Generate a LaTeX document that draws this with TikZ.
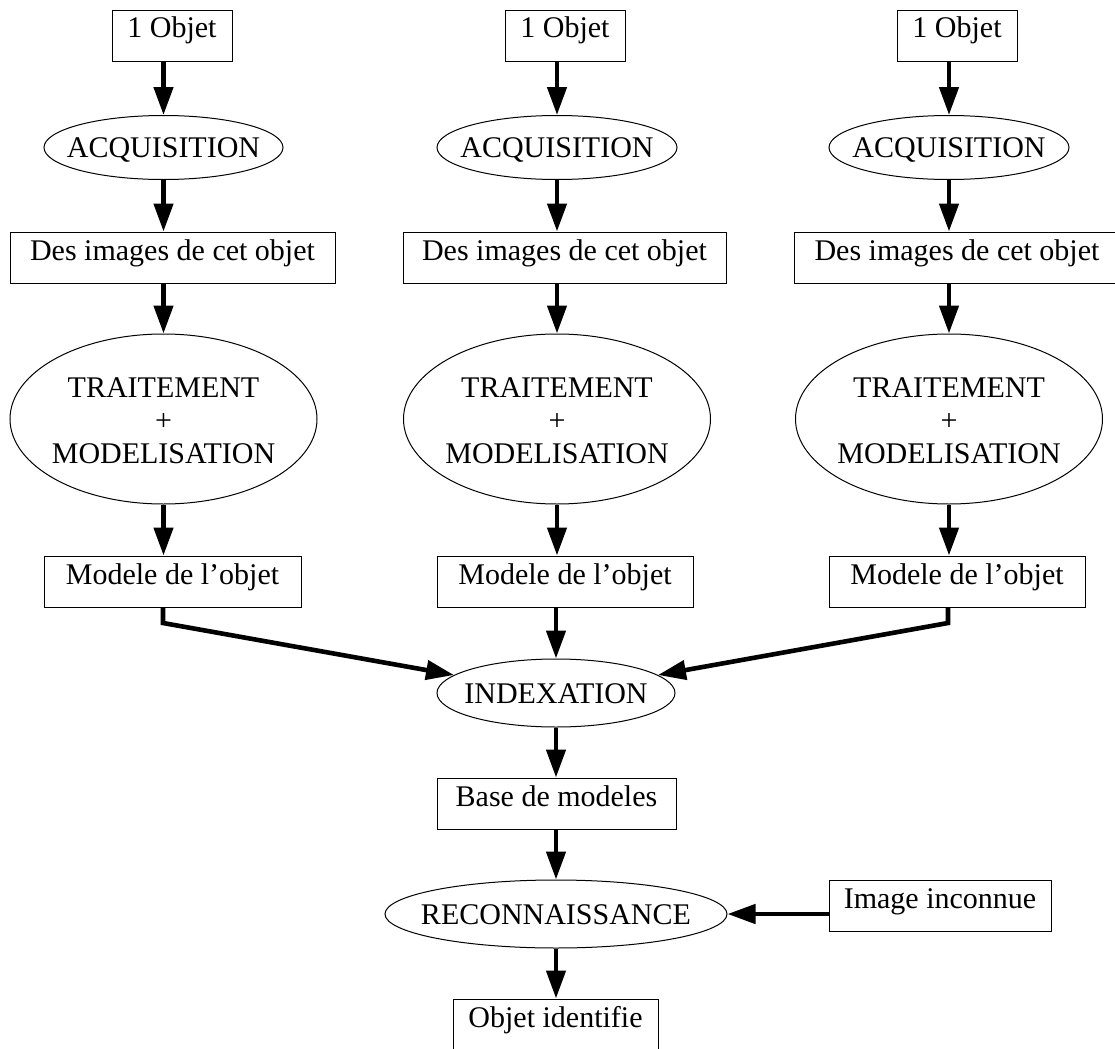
\documentclass[tikz,border=0pt]{standalone}
\usepackage{fontspec}
\setmainfont{Liberation Serif}
\usetikzlibrary{shapes.geometric,arrows.meta}
\newcommand{\zw}[1]{\makebox[0pt]{#1}}
\newcommand{\threel}[3]{\raisebox{-6pt}[0pt][0pt]{\makebox[0pt]{\begin{tabular}{@{}c@{}}#1\\#2\\#3\end{tabular}}}}
\begin{document}
\begin{tikzpicture}[x=0.5pt,y=-0.5pt,
  every node/.style={font=\fontsize{15}{16.5}\selectfont},
  boxnode/.style={draw,line width=0.5pt,rectangle,inner sep=0pt,
     minimum height=25.5pt,text height=14pt,text depth=11.5pt},
  ellnode/.style={draw,line width=0.5pt,ellipse,inner sep=0pt,
     text height=10pt,text depth=0pt},
  bigell/.style={draw,line width=0.5pt,ellipse,inner sep=0pt,
     minimum width=153.5pt,minimum height=85pt},
  arr/.style={line width=2.3pt,-{Triangle[length=14pt,width=9.5pt]}},
  thickline/.style={line width=2.3pt}]
\useasboundingbox (0,0) rectangle (1115,1049);

% Column 1
\node[boxnode,minimum width=60pt] (o1) at (172,35.5) {1 Objet};
\node[ellnode,minimum width=119.5pt,minimum height=32pt] (a1) at (163.5,147.5) {\zw{ACQUISITION}};
\node[boxnode,minimum width=162.5pt] (d1) at (172.5,257.5) {Des images de cet objet};
\node[bigell] (t1) at (163.5,419) {\threel{TRAITEMENT}{+}{MODELISATION}};
\node[boxnode,minimum width=128.5pt] (m1) at (172.5,581.5) {Modele de l'objet};

% Column 2
\node[boxnode,minimum width=60pt] (o2) at (565,35.5) {1 Objet};
\node[ellnode,minimum width=120pt,minimum height=32pt] (a2) at (557,147.5) {\zw{ACQUISITION}};
\node[boxnode,minimum width=161.5pt] (d2) at (564.5,257.5) {Des images de cet objet};
\node[bigell] (t2) at (557,419) {\threel{TRAITEMENT}{+}{MODELISATION}};
\node[boxnode,minimum width=128pt] (m2) at (565,581.5) {Modele de l'objet};

% Column 3
\node[boxnode,minimum width=60pt] (o3) at (957,35.5) {1 Objet};
\node[ellnode,minimum width=120pt,minimum height=32pt] (a3) at (949,147.5) {\zw{ACQUISITION}};
\node[boxnode,minimum width=162.5pt] (d3) at (957,257.5) {Des images de cet objet};
\node[bigell] (t3) at (949,419) {\threel{TRAITEMENT}{+}{MODELISATION}};
\node[boxnode,minimum width=128pt] (m3) at (957,581.5) {Modele de l'objet};

% Lower part
\node[ellnode,minimum width=119pt,minimum height=34pt] (idx) at (556,693) {\zw{INDEXATION}};
\node[boxnode,minimum width=119.5pt] (base) at (556.5,803.5) {Base de modeles};
\node[ellnode,minimum width=171pt,minimum height=34pt] (rec) at (556,914) {\zw{RECONNAISSANCE}};
\node[boxnode,minimum width=102.5pt] (oid) at (555.5,1024.5) {Objet identifie};
\node[boxnode,minimum width=111pt] (img) at (940,906) {Image inconnue};

\coordinate (k1) at (163,623);
\coordinate (k3) at (948,623);

% Arrows columns
\foreach \i in {1,2,3}{
  \draw[arr] (o\i.south -| a\i.north) -- (a\i.north);
  \draw[arr] (a\i.south) -- (d\i.north -| a\i.south);
  \draw[arr] (d\i.south -| t\i.north) -- (t\i.north);
  \draw[arr] (t\i.south) -- (m\i.north -| t\i.south);
}
\draw[arr,line join=miter] (m1.south -| k1) -- (k1) -- (idx.170);
\draw[arr,line join=miter] (m3.south -| k3) -- (k3) -- (idx.10);
\draw[arr] (m2.south -| idx.north) -- (idx.north);
\draw[arr] (idx.south) -- (base.north -| idx.south);
\draw[arr] (base.south -| rec.north) -- (rec.north);
\draw[arr] (rec.south) -- (oid.north -| rec.south);
\draw[arr] (img.west |- rec.east) -- (rec.east);
\end{tikzpicture}
\end{document}
